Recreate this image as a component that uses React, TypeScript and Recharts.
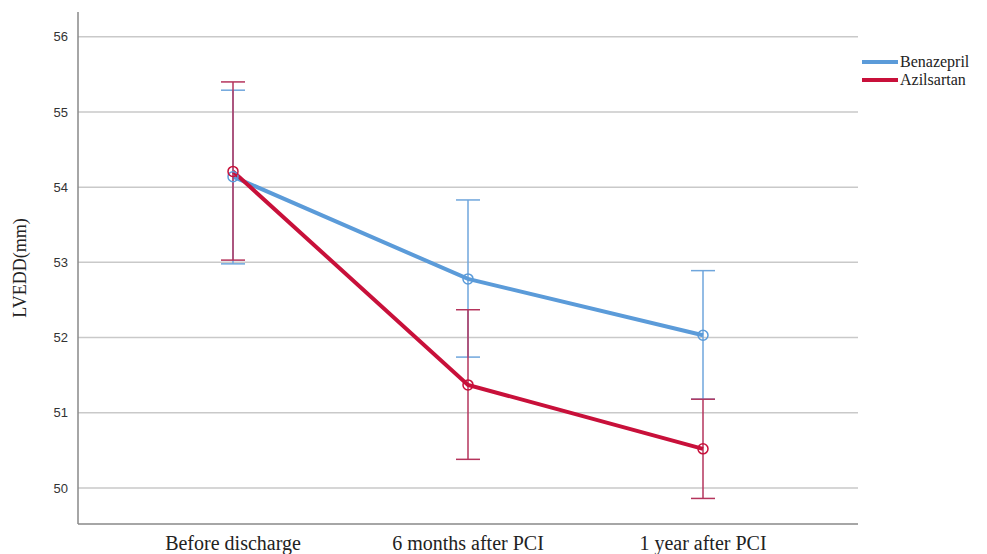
import React from "react";
import { CartesianGrid, ErrorBar, Line, LineChart, XAxis, YAxis } from "recharts";

const timepoints = ["Before discharge", "6 months after PCI", "1 year after PCI"];

const benazeprilMean = [54.14, 52.78, 52.03];
const benazeprilLow = [52.98, 51.74, 51.18];
const benazeprilHigh = [55.29, 53.83, 52.89];

const azilsartanMean = [54.21, 51.37, 50.52];
const azilsartanLow = [53.03, 50.38, 49.86];
const azilsartanHigh = [55.4, 52.37, 51.18];

const yTicks = [50, 51, 52, 53, 54, 55, 56];

const BLUE = "#5b9bd9";
const RED = "#c8103a";

const data = timepoints.map((t, i) => ({
  name: t,
  benazepril: benazeprilMean[i],
  benazeprilErr: [benazeprilMean[i] - benazeprilLow[i], benazeprilHigh[i] - benazeprilMean[i]],
  azilsartan: azilsartanMean[i],
  azilsartanErr: [azilsartanMean[i] - azilsartanLow[i], azilsartanHigh[i] - azilsartanMean[i]],
}));

const legendItems = [
  { label: "Benazepril", color: BLUE },
  { label: "Azilsartan", color: RED },
];

// legend drawn as a plain overlay so it doesn't steal plot width
const LegendBox = () => (
  <div
    style={{
      position: "absolute",
      left: 862,
      top: 53,
      fontFamily: "'Liberation Serif', serif",
      fontSize: 16,
      color: "#222",
    }}
  >
    {legendItems.map((it) => (
      <div key={it.label} style={{ display: "flex", alignItems: "center", height: 18 }}>
        <span style={{ display: "inline-block", width: 36, height: 4, background: it.color, marginRight: 2 }} />
        <span>{it.label}</span>
      </div>
    ))}
  </div>
);

export default function App() {
  return (
    <div style={{ position: "absolute", left: 0, top: 0, width: 987, height: 554, background: "#fff" }}>
      <LineChart width={987} height={554} data={data} margin={{ top: 12, right: 129, left: 0, bottom: 0 }}>
        <CartesianGrid
          horizontal
          vertical={false}
          horizontalValues={yTicks}
          syncWithTicks
          stroke="#c9c9c9"
          strokeWidth={1.5}
        />
        <XAxis
          dataKey="name"
          height={30}
          padding={{ left: 155, right: 155 }}
          tickLine={false}
          tickSize={0}
          tickMargin={12}
          axisLine={{ stroke: "#888", strokeWidth: 1.5 }}
          tick={{ fontFamily: "'Liberation Serif', serif", fontSize: 20, fill: "#222" }}
        />
        <YAxis
          width={78}
          domain={[49.52, 56.33]}
          ticks={yTicks}
          allowDataOverflow
          tickLine={false}
          tickSize={0}
          tickMargin={10}
          axisLine={{ stroke: "#888", strokeWidth: 1.5 }}
          tick={{ fontFamily: "'Liberation Sans', Arial, sans-serif", fontSize: 13, fill: "#333" }}
          label={{
            value: "LVEDD(mm)",
            angle: -90,
            position: "insideLeft",
            offset: 20,
            style: { fontFamily: "'Liberation Serif', serif", fontSize: 18, fill: "#222", textAnchor: "middle" },
          }}
        />
        <Line
          dataKey="benazepril"
          name="Benazepril"
          type="linear"
          stroke={BLUE}
          strokeWidth={4}
          dot={{ r: 5, stroke: BLUE, strokeWidth: 1.5, fill: "none" }}
          isAnimationActive={false}
        >
          <ErrorBar dataKey="benazeprilErr" width={12} stroke="#6fa6dc" strokeWidth={1.5} direction="y" />
        </Line>
        <Line
          dataKey="azilsartan"
          name="Azilsartan"
          type="linear"
          stroke={RED}
          strokeWidth={4}
          dot={{ r: 5, stroke: RED, strokeWidth: 1.5, fill: "none" }}
          isAnimationActive={false}
        >
          <ErrorBar dataKey="azilsartanErr" width={12} stroke="#b5345c" strokeWidth={1.5} direction="y" />
        </Line>
      </LineChart>
      <LegendBox />
    </div>
  );
}
